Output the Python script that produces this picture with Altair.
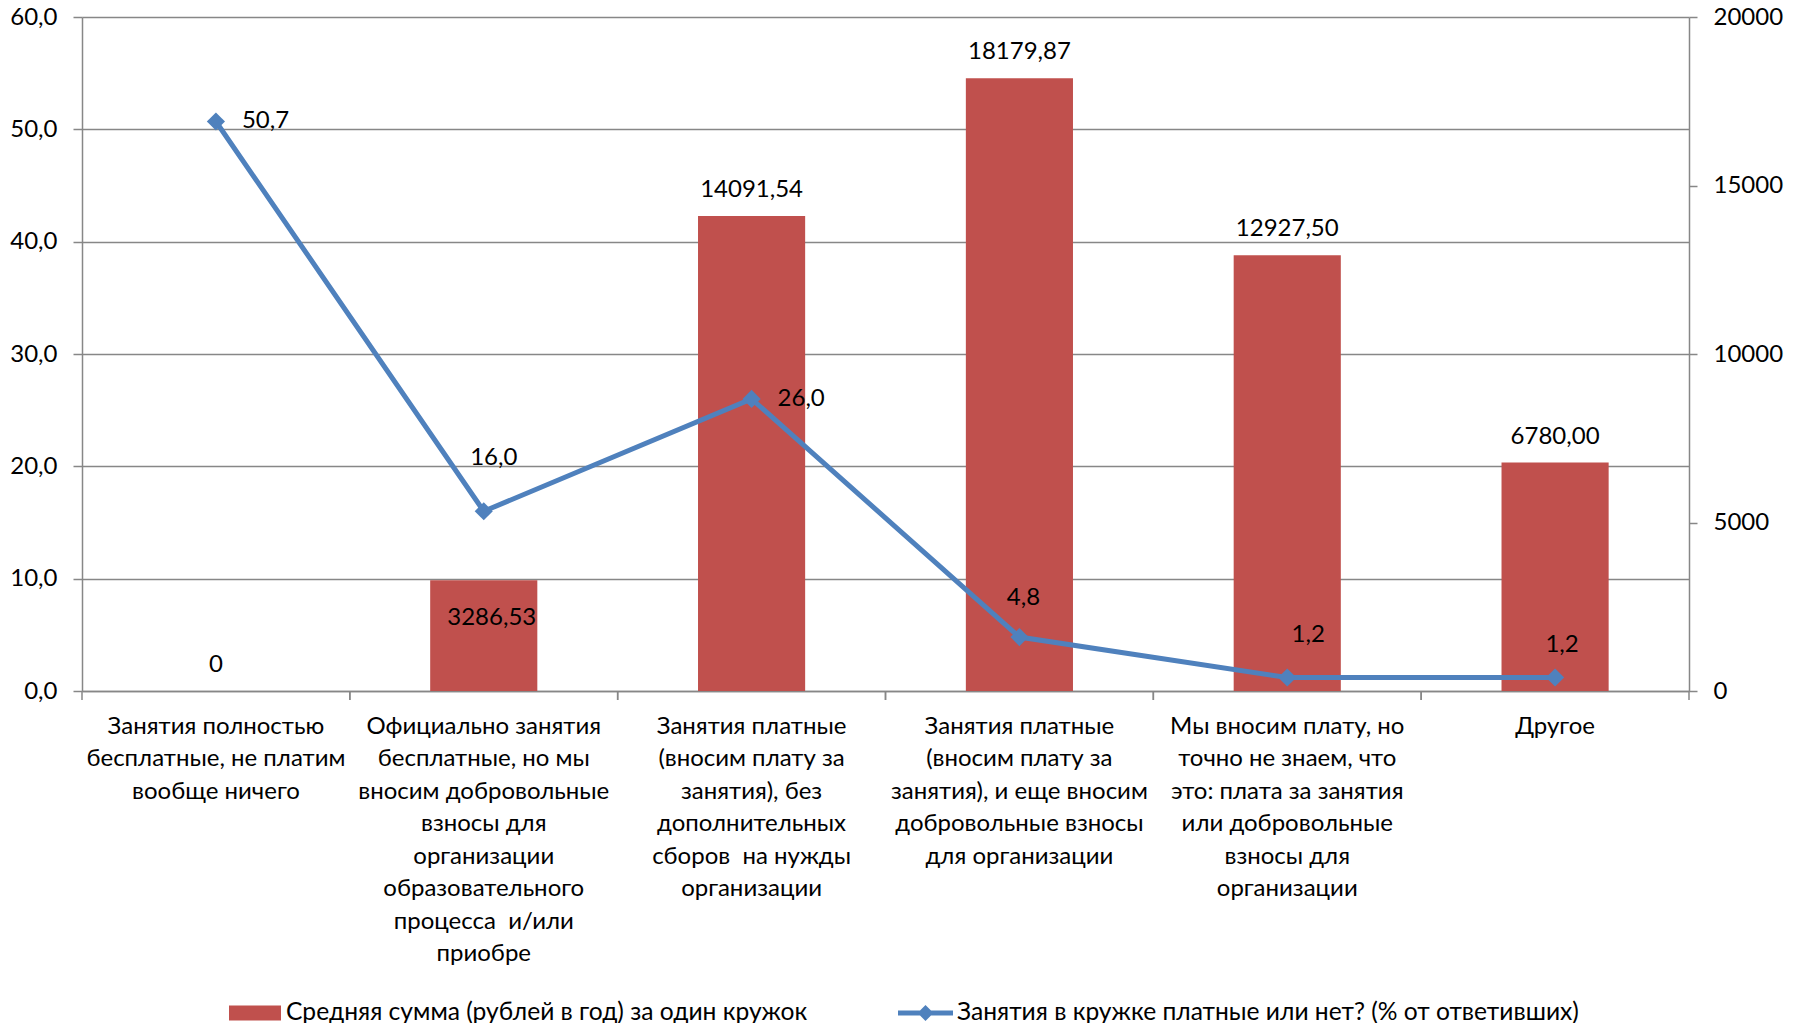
import altair as alt
import pandas as pd

categories = [
    "Занятия полностью|бесплатные, не платим|вообще ничего",
    "Официально занятия|бесплатные, но мы|вносим добровольные|взносы для|организации|образовательного|процесса \u00a0и/или|приобре",
    "Занятия платные|(вносим плату за|занятия), без|дополнительных|сборов \u00a0на нужды|организации",
    "Занятия платные|(вносим плату за|занятия), и еще вносим|добровольные взносы|для организации",
    "Мы вносим плату, но|точно не знаем, что|это: плата за занятия|или добровольные|взносы для|организации",
    "Другое",
]
avg_sum = [0, 3286.53, 14091.54, 18179.87, 12927.50, 6780.00]
paid_share = [50.7, 16.0, 26.0, 4.8, 1.2, 1.2]
bar_series = "Средняя сумма (рублей в год) за один кружок"
line_series = "Занятия в кружке платные или нет? (% от ответивших)"
left_ticks = [0, 10, 20, 30, 40, 50, 60]
right_ticks = [0, 5000, 10000, 15000, 20000]

df = pd.DataFrame({
    "cat": categories,
    "idx": list(range(len(categories))),
    "sum": avg_sum,
    "share": paid_share,
    "bar_series": [bar_series] * len(categories),
    "line_series": [line_series] * len(categories),
})

FONT = "Lato"
FS = 24
FS_CAT = 24
FS_LEG = 24.6
RED = "#C0504D"
BLUE = "#4F81BD"
GRID = "#878787"

base = alt.Chart(df).transform_calculate(
    sum_label="datum.sum == 0 ? '0' : replace(format(datum.sum, '.2f'), '.', ',')",
    share_label="replace(format(datum.share, '.1f'), '.', ',')",
)

x_scale = alt.Scale(paddingInner=0, paddingOuter=0)
x_axis = alt.Axis(
    title=None, labelExpr="split(datum.label, '|')", labelFont=FONT,
    labelFontSize=FS_CAT, labelColor="black", labelLineHeight=32.5, labelLimit=340,
    labelPadding=23, ticks=False, tickSize=0, labelAngle=0,
    domainColor=GRID, domainWidth=1.5, labelBaseline="top",
)
x_main = alt.X("cat:N", sort=categories, scale=x_scale, axis=x_axis)

y_right_scale = alt.Scale(domain=[0, 20000], nice=False, zero=True)
y_right_axis = alt.Axis(
    orient="right", values=right_ticks, format="d", grid=False, title=None,
    tickSize=8, tickColor=GRID, tickWidth=1.5, domainColor=GRID, domainWidth=1.5,
    labelPadding=16, labelFont=FONT, labelFontSize=FS, labelColor="black",
)
y_right = alt.Y("sum:Q", scale=y_right_scale, axis=y_right_axis)

y_left_scale = alt.Scale(domain=[0, 60], nice=False, zero=True)
y_left_axis = alt.Axis(
    orient="left", values=left_ticks, title=None,
    labelExpr="replace(format(datum.value, '.1f'), '.', ',')",
    grid=True, gridColor=GRID, gridWidth=1.5, tickSize=9, tickColor=GRID, tickWidth=1.5,
    domainColor=GRID, domainWidth=1.5, labelPadding=16,
    labelFont=FONT, labelFontSize=FS, labelColor="black",
)
y_left = alt.Y("share:Q", scale=y_left_scale, axis=y_left_axis)

bars = base.mark_bar(width={"band": 0.4}).encode(
    x=x_main, y=y_right,
    color=alt.Color(
        "bar_series:N", scale=alt.Scale(domain=[bar_series], range=[RED]),
        legend=alt.Legend(
            title=None, orient="none", legendX=147, legendY=970, padding=0,
            symbolType="M-1,-0.29H1V0.29H-1Z", symbolSize=2704, symbolStrokeWidth=0,
            symbolOpacity=1, labelFont=FONT, labelFontSize=FS_LEG, labelColor="black",
            labelOffset=5, labelLimit=900,
        ),
    ),
)

bar_text_above = base.transform_filter("datum.idx != 1").mark_text(
    font=FONT, fontSize=FS, color="black", baseline="middle", dy=-26
).encode(x=x_main, y=y_right, text="sum_label:N")
bar_text_inside = base.transform_filter("datum.idx == 1").mark_text(
    font=FONT, fontSize=FS, color="black", baseline="middle", dy=38, dx=8
).encode(x=x_main, y=y_right, text="sum_label:N")

tick_left = base.mark_rule(color=GRID, strokeWidth=1.5).encode(
    x=alt.X("cat:N", sort=categories, bandPosition=0, scale=x_scale, axis=x_axis),
    y=alt.value(674), y2=alt.value(683),
)
tick_right = base.mark_rule(color=GRID, strokeWidth=1.5).encode(
    x=alt.X("cat:N", sort=categories, bandPosition=1, scale=x_scale, axis=x_axis),
    y=alt.value(674), y2=alt.value(683),
)

right_layer = alt.layer(bars, bar_text_above, bar_text_inside, tick_left, tick_right)

line = base.mark_line(color=BLUE, strokeWidth=5).encode(x=x_main, y=y_left)
points = base.mark_point(shape="diamond", filled=True, size=330, opacity=1).encode(
    x=x_main, y=y_left,
    color=alt.Color(
        "line_series:N", scale=alt.Scale(domain=[line_series], range=[BLUE]),
        legend=alt.Legend(
            title=None, orient="none", legendX=816, legendY=968.5, padding=0,
            symbolType="M-1,-0.09H1V0.09H-1Z M0,-0.29L0.29,0L0,0.29L-0.29,0Z",
            symbolSize=3025, symbolStrokeWidth=0, symbolOpacity=1,
            labelFont=FONT, labelFontSize=FS_LEG, labelColor="black",
            labelOffset=4, labelLimit=900,
        ),
    ),
)


def share_text(cond, dx, dy, align):
    return base.transform_filter(cond).mark_text(
        font=FONT, fontSize=FS, color="black", baseline="middle", align=align, dx=dx, dy=dy
    ).encode(x=x_main, y=y_left, text="share_label:N")


share_texts = [
    share_text("datum.idx == 0 || datum.idx == 2", 26, 0, "left"),
    share_text("datum.idx == 1", 10, -53, "center"),
    share_text("datum.idx == 3", 4, -39, "center"),
    share_text("datum.idx == 4", 21, -43, "center"),
    share_text("datum.idx == 5", 7, -33, "center"),
]

left_layer = alt.layer(line, points, *share_texts)

chart = alt.layer(right_layer, left_layer).resolve_scale(
    y="independent", color="independent"
).resolve_legend(color="independent").properties(
    width=1607, height=674,
    autosize=alt.AutoSizeParams(type="none"),
    padding={"left": 74, "top": 9, "right": 97, "bottom": 332},
    background="white",
).configure_view(stroke=None)

chart.save("out.html", embed_options={"renderer": "svg", "actions": False})
